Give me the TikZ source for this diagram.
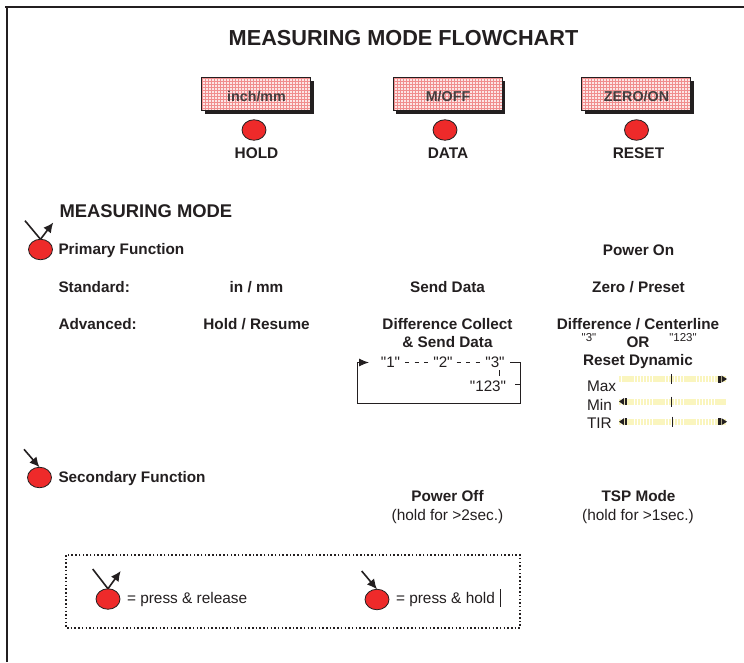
\documentclass[tikz,border=0pt]{standalone}
\usepackage{fontspec}
\setmainfont{Liberation Sans}
\newfontfamily\qf{Liberation Sans}
\usetikzlibrary{arrows.meta,shapes.geometric}
\definecolor{ink}{HTML}{231F20}
\definecolor{ledred}{HTML}{EE2A2A}
\definecolor{barpale}{HTML}{FAF5BE}
\definecolor{keypink}{HTML}{FCE6E6}
\definecolor{keygrid}{HTML}{F08E8E}
\tikzset{
 x=1pt,y=-1pt,
 every node/.style={text=ink,inner sep=0pt,outer sep=0pt},
 ttl/.style={font=\bfseries\fontsize{21.7}{24}\selectfont},
 hd/.style={font=\bfseries\fontsize{15.4}{18}\selectfont},
 heading/.style={font=\bfseries\fontsize{18.4}{20}\selectfont,anchor=west},
 bf/.style={font=\bfseries\fontsize{15.3}{18.5}\selectfont},
 bfl/.style={bf,anchor=west},
 rg/.style={font=\fontsize{15.4}{17}\selectfont},
 sm/.style={font=\qf\fontsize{11.5}{13}\selectfont},
 q/.style={font=\qf\fontsize{15.2}{17}\selectfont},
 ledw/.style={ellipse,draw=ink,line width=.8pt,fill=ledred,minimum width=24pt,minimum height=20.5pt,inner sep=0pt},
 arr/.style={draw=ink,line width=1.6pt,-{Latex[length=10pt,width=9.5pt]}},
 stem/.style={draw=ink,line width=1.6pt},
 wire/.style={draw=ink,line width=1pt},
 dots/.style={wire,dash pattern=on 4pt off 5.5pt},
 bar/.style={draw=barpale,line width=6pt,dash pattern=on 2.4pt off .7pt},
 tick/.style={draw=ink,line width=1pt},
 keytext/.style={font=\bfseries\fontsize{14.3}{16}\selectfont,text=ink!85!keypink},
}
\newcommand{\keybox}[4]{%
 \fill[ink] (#1+3,#2+3) rectangle (#1+112,#2+36);
 \fill[keypink] (#1,#2) rectangle (#1+109,#2+33);
 \begin{scope}
 \clip (#1,#2) rectangle (#1+109,#2+33);
 \foreach \u in {1,4,...,109} {\draw[keygrid,line width=.6pt] (#1+\u,#2)--(#1+\u,#2+33);}
 \foreach \u in {1,4,...,33} {\draw[keygrid,line width=.6pt] (#1,#2+\u)--(#1+109,#2+\u);}
 \end{scope}
 \draw[ink,line width=.9pt] (#1,#2) rectangle (#1+109,#2+33);
 \node[keytext] (#4) at (#1+55,#2+19) {#3};
}
\newcommand{\dynbar}[2]{%
 \draw[bar] (619,#1)--(726,#1);
 \draw[tick] (#2,#1-5)--(#2,#1+5);
}
\newcommand{\tipR}[1]{%
 \fill[ink] (717.5,#1-3.5) rectangle (720.5,#1+3.5);
 \fill[ink] (721.5,#1-3.5)--(727,#1)--(721.5,#1+3.5)--cycle;
}
\newcommand{\tipL}[1]{%
 \fill[ink] (624,#1-3.5)--(619,#1)--(624,#1+3.5)--cycle;
 \fill[ink] (624.7,#1-3.5) rectangle (626.5,#1+3.5);
}
\begin{document}
\begin{tikzpicture}
\useasboundingbox (0,0) rectangle (744,662);
\fill[white] (0,0) rectangle (744,662);
\draw[ink,line width=2pt] (7,662)--(7,6.7)--(5,6.7);
\draw[ink,line width=2pt] (5,6.7)--(744,6.7);
\node[ttl] (title) at (403.5,38.5) {MEASURING MODE FLOWCHART};

\keybox{201.5}{77.5}{inch/mm}{k1}
\keybox{393}{77.5}{M/OFF}{k2}
\keybox{581.5}{77.5}{ZERO/ON}{k3}
\node[ledw] (l1) at (254,130) {};
\node[ledw] (l2) at (445,130) {};
\node[ledw] (l3) at (636.5,130) {};
\node[hd] (h1) at (256.5,153) {HOLD};
\node[hd] (h2) at (448,153) {DATA};
\node[hd] (h3) at (638.5,153) {RESET};

\node[heading] (mm) at (59.5,211) {MEASURING MODE};
\node[ledw] (p) at (40.5,249.5) {};
\coordinate (p0) at (25,220.7);
\coordinate (p1) at (53.3,222.5);
\draw[stem] (p0)--(p.north);
\draw[arr] (p.north)--(p1);
\node[bfl] (pf) at (58.5,251) {Primary Function};
\node[bf] (pon) at (638.5,250.5) {Power On};
\node[bfl] (st) at (58.5,287.5) {Standard:};
\node[bf] (inmm) at (256.5,287.5) {in / mm};
\node[bf] (sd) at (447.5,287.5) {Send Data};
\node[bf] (zp) at (638.5,287.5) {Zero / Preset};
\node[bfl] (ad) at (58.5,324) {Advanced:};
\node[bf] (hr) at (256.5,324) {Hold / Resume};
\node[bf] (dc) at (447.5,324) {Difference Collect};
\node[bf] (sd2) at (447.5,342) {\& Send Data};
\node[bf] (dcl) at (638,324) {Difference / Centerline};
\node[sm] (q3) at (589,337.5) {"3"};
\node[bf] (or) at (638,342) {OR};
\node[sm] (q123) at (683,337.5) {"123"};
\node[bf] (rd) at (638,361.5) {Reset Dynamic};

\node[q] (s1) at (390.5,362) {"1"};
\node[q] (s2) at (443,362) {"2"};
\node[q] (s3) at (495,362) {"3"};
\node[q] (s123) at (488,386) {"123"};
\draw[dots] ([xshift=5pt]s1.east)--([xshift=-5.5pt]s2.west);
\draw[dots] ([xshift=4pt]s2.east)--([xshift=-5.5pt]s3.west);
\coordinate (ra) at (520,362.5);
\coordinate (rb) at (520,403.3);
\coordinate (lb) at (357,403.3);
\coordinate (la) at (357,362.5);
\coordinate (rt) at (510,362.5);
\coordinate (rm) at (515,384);
\draw[wire] (rt)--(ra)--(rb)--(lb)--(la);
\draw[wire,-{Latex[length=10pt,width=8pt]}] (la)--(369,362.5);
\draw[wire] (rm)--(ra|-rm);
\draw[wire] (499,370)--(499,376);

\node[rg,anchor=west] (mx) at (587,386.5) {Max};
\node[rg,anchor=west] (mn) at (587,405) {Min};
\node[rg,anchor=west] (ti) at (587,423.5) {TIR};
\dynbar{379}{671}
\dynbar{401.5}{671}
\dynbar{421.7}{672.5}
\tipR{379}
\tipL{401.5}
\tipL{421.7}
\tipR{421.7}

\node[ledw] (s) at (39.5,477.5) {};
\coordinate (s0) at (24,449.3);
\draw[arr] (s0)--(s.north);
\node[bfl] (sf) at (58.5,479) {Secondary Function};
\node[bf] (po) at (447.5,496) {Power Off};
\node[rg] (po2) at (447.5,516.5) {(hold for >2sec.)};
\node[bf] (ts) at (638.5,496) {TSP Mode};
\node[rg] (ts2) at (638,516.5) {(hold for >1sec.)};

\draw[ink,line width=1.5pt,dash pattern=on 1.5pt off 2.2pt] (66,555) rectangle (520,628);
\node[ledw] (a) at (108,599) {};
\coordinate (a0) at (92.7,569);
\coordinate (a1) at (120.7,571);
\draw[stem] (a0)--(a.north);
\draw[arr] (a.north)--(a1);
\node[rg,anchor=west] (al) at (127,600) {= press \& release};
\node[ledw] (b) at (377,599.5) {};
\coordinate (b0) at (361.7,571);
\draw[arr] (b0)--(b.north);
\node[rg,anchor=west] (bl) at (396,600) {= press \& hold};
\coordinate (c0) at (500.5,589);
\coordinate (c1) at (500.5,607);
\draw[ink,line width=.8pt] (c0)--(c1);
\end{tikzpicture}
\end{document}
